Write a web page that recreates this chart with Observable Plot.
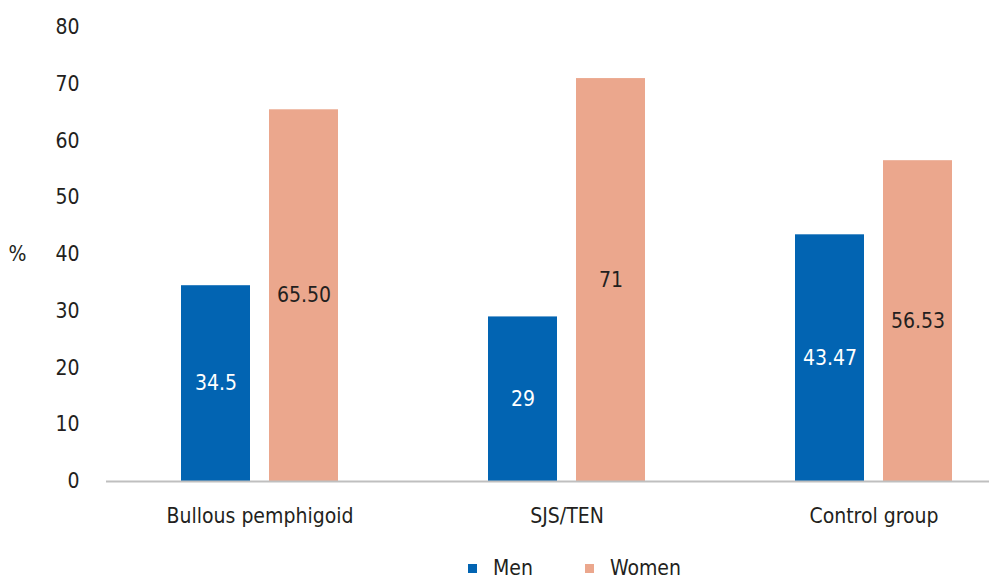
<!DOCTYPE html>
<html>
<head>
<meta charset="utf-8">
<script src="https://cdn.jsdelivr.net/npm/d3@7"></script>
<script src="https://cdn.jsdelivr.net/npm/@observablehq/plot@0.6"></script>
<style>
  html, body { margin: 0; padding: 0; background: #fff; }
  body { width: 989px; font-family: "Liberation Sans Narrow", "DejaVu Sans Condensed", sans-serif; font-stretch: condensed; color: #231f20; }
  #legend { display: flex; justify-content: center; align-items: center; height: 46px; font-size: 21px; line-height: 24px; padding-left: 160px; box-sizing: border-box; }
  .item { display: flex; align-items: center; margin: 0 26px; }
  .sw { width: 9px; height: 9px; margin-right: 16px; }
</style>
</head>
<body>
<div id="chart"></div>
<div id="legend"></div>
<script>
const categories = ["Bullous pemphigoid", "SJS/TEN", "Control group"];
const men = [34.5, 29, 43.47];
const women = [65.5, 71, 56.53];
const menLabels = ["34.5", "29", "43.47"];
const womenLabels = ["65.50", "71", "56.53"];
const yTicks = [0, 10, 20, 30, 40, 50, 60, 70, 80];
const seriesNames = ["Men", "Women"];
const seriesColors = ["#0264b2", "#eba78d"];

const menData = categories.map((c, i) => ({category: c, value: men[i], label: menLabels[i]}));
const womenData = categories.map((c, i) => ({category: c, value: women[i], label: womenLabels[i]}));

const font = '"Liberation Sans Narrow", "DejaVu Sans Condensed", sans-serif';

const chart = Plot.plot({
  width: 989,
  height: 545,
  marginTop: 27,
  marginBottom: 64,
  marginLeft: 106,
  marginRight: 0,
  style: {fontFamily: font, fontStretch: "condensed", fontSize: "21px", color: "#231f20", background: "#fff"},
  x: {domain: categories, range: [106, 1027], padding: 0, label: null},
  y: {domain: [0, 80], label: null},
  marks: [
    Plot.barY(menData, {x: "category", y: "value", fill: seriesColors[0], insetLeft: 75, insetRight: 163}),
    Plot.barY(womenData, {x: "category", y: "value", fill: seriesColors[1], insetLeft: 163, insetRight: 75}),
    Plot.text(menData, {x: "category", y: d => d.value / 2, text: "label", dx: -44, fill: "#fff", fontSize: 21}),
    Plot.text(womenData, {x: "category", y: d => d.value / 2, text: "label", dx: 44, fill: "#231f20", fontSize: 21}),
    Plot.ruleY([0], {stroke: "#bfbfbf", strokeWidth: 2}),
    Plot.axisY({ticks: yTicks, tickSize: 0, tickPadding: 27, label: null, fontSize: 21}),
    Plot.axisX({tickSize: 0, tickPadding: 27, label: null, fontSize: 21}),
    Plot.text(["%"], {frameAnchor: "left", textAnchor: "end", fontSize: 21, fill: "#231f20", dx: -80})
  ]
});
document.getElementById("chart").appendChild(chart);

const legend = document.getElementById("legend");
seriesNames.forEach((name, i) => {
  const item = document.createElement("div");
  item.className = "item";
  const sw = document.createElement("span");
  sw.className = "sw";
  sw.style.background = seriesColors[i];
  const t = document.createElement("span");
  t.textContent = name;
  item.appendChild(sw);
  item.appendChild(t);
  legend.appendChild(item);
});
</script>
</body>
</html>
